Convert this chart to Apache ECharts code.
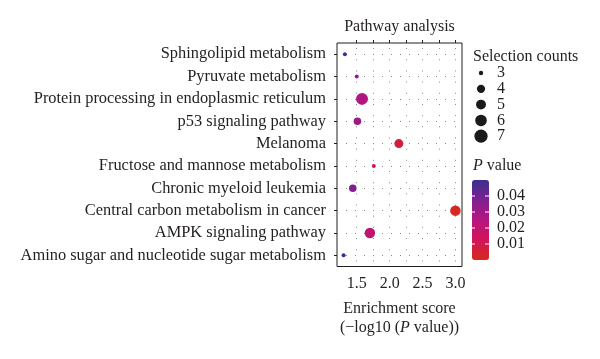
<!DOCTYPE html>
<html><head><meta charset="utf-8">
<script src="https://cdn.jsdelivr.net/npm/echarts@6/dist/echarts.min.js"></script>
<style>html,body{margin:0;padding:0;background:#fff}#c{width:600px;height:359px}</style>
</head><body><div id="c"></div>
<script>
const categories = [
  'Sphingolipid metabolism',
  'Pyruvate metabolism',
  'Protein processing in endoplasmic reticulum',
  'p53 signaling pathway',
  'Melanoma',
  'Fructose and mannose metabolism',
  'Chronic myeloid leukemia',
  'Central carbon metabolism in cancer',
  'AMPK signaling pathway',
  'Amino sugar and nucleotide sugar metabolism'
];
const enrichmentScores = [1.32, 1.50, 1.58, 1.51, 2.14, 1.76, 1.44, 3.00, 1.70, 1.30];
const pValues = [0.048, 0.032, 0.026, 0.031, 0.0072, 0.017, 0.036, 0.001, 0.020, 0.050];
const selectionCounts = [3, 3, 7, 4, 5, 3, 4, 6, 6, 3];
const xLabelValues = [1.5, 2.0, 2.5, 3.0];
const xTickValues = [1.5, 1.75, 2.0, 2.25, 2.5, 2.75, 3.0];
const sizeLegendCounts = [3, 4, 5, 6, 7];
const pTickValues = [0.04, 0.03, 0.02, 0.01];

const FONT = 'Liberation Serif';
const FS = 16;
const TXT = '#231f20';
function dotSize(c) { return c <= 3 ? 4 : 1.5 * c + 1.5; }

const chart = echarts.init(document.getElementById('c'), null, {renderer: 'canvas'});

const G = {left: 337, top: 43, width: 125, height: 223.5};
const VM = {left: 472, top: 180, w: 17, h: 80, min: 0, max: 0.05};
const rowStep = G.height / categories.length / 2;

const graphics = [];
const txt = (x, y, text, align) => ({type: 'text', x, y, style: {text, font: FS + 'px ' + FONT, fill: TXT, textAlign: align || 'left', textVerticalAlign: 'middle'}});
graphics.push(txt(G.left + G.width / 2, 27, 'Pathway analysis', 'center'));
graphics.push(txt(G.left + G.width / 2, 309, 'Enrichment score', 'center'));
graphics.push({type: 'text', x: G.left + G.width / 2, y: 328, style: {
  text: '{n|(−log10 (}{i|P}{n| value))}', textAlign: 'center', textVerticalAlign: 'middle',
  rich: {n: {font: FS + 'px ' + FONT, fill: TXT}, i: {font: 'italic ' + FS + 'px ' + FONT, fill: TXT}}}});
// size legend
graphics.push(txt(473, 57, 'Selection counts'));
sizeLegendCounts.forEach((c, i) => {
  const y = 73 + i * 15.8;
  graphics.push({type: 'circle', shape: {cx: 481, cy: y, r: dotSize(c) * 0.55}, style: {fill: '#1a1a1a'}});
  graphics.push(txt(497, y, String(c)));
});
// P value legend
graphics.push({type: 'text', x: 473, y: 166, style: {
  text: '{i|P}{n| value}', textAlign: 'left', textVerticalAlign: 'middle',
  rich: {n: {font: FS + 'px ' + FONT, fill: TXT}, i: {font: 'italic ' + FS + 'px ' + FONT, fill: TXT}}}});
pTickValues.forEach(v => {
  const y = VM.top + (VM.max - v) / (VM.max - VM.min) * VM.h;
  graphics.push({type: 'line', shape: {x1: VM.left, y1: y, x2: VM.left + 3, y2: y}, style: {stroke: '#fff', lineWidth: 1}, z: 100});
  graphics.push({type: 'line', shape: {x1: VM.left + VM.w - 4, y1: y, x2: VM.left + VM.w, y2: y}, style: {stroke: '#fff', lineWidth: 1}, z: 100});
  graphics.push(txt(497, y, v.toFixed(2)));
});

const option = {
  backgroundColor: '#fff',
  animation: false,
  textStyle: {fontFamily: FONT},
  grid: {left: G.left, top: G.top, width: G.width, height: G.height, show: true, borderColor: '#231f20', borderWidth: 1, containLabel: false},
  xAxis: [{
    type: 'value', min: 1.2, max: 3.1,
    axisLine: {show: false},
    axisTick: {show: true, length: 3, inside: true, customValues: xTickValues, lineStyle: {color: '#231f20'}},
    axisLabel: {customValues: xLabelValues, formatter: v => v.toFixed(1), color: TXT, fontFamily: FONT, fontSize: FS, margin: 9},
    splitLine: {show: true, lineStyle: {color: '#8a8a8a', type: [1, rowStep - 1], dashOffset: -rowStep / 2 + 0.5, width: 1}}
  }],
  yAxis: [{
    type: 'category', data: categories, inverse: true,
    axisLine: {show: false},
    axisTick: {show: true, alignWithLabel: true, length: 3, lineStyle: {color: '#231f20'}},
    axisLabel: {color: TXT, fontFamily: FONT, fontSize: 16.4, margin: 11},
    splitLine: {show: false}
  }, {
    type: 'value', min: 0, max: 10, interval: 1, inverse: true,
    axisLine: {show: false}, axisLabel: {show: false}, axisTick: {show: false},
    splitLine: {show: false},
    minorTick: {show: false, splitNumber: 2},
    minorSplitLine: {show: true, lineStyle: {color: '#8a8a8a', type: [1, 8], width: 1}}
  }],
  visualMap: {
    type: 'continuous', min: VM.min, max: VM.max, dimension: 2, seriesIndex: 0,
    left: VM.left, top: VM.top, itemWidth: VM.w, itemHeight: VM.h, padding: 0,
    calculable: false, text: null, showLabel: false, hoverLink: false,
    inRange: {color: ['#d42a1c', '#d3135a', '#b5157f', '#7d2090', '#3b2f8f']}
  },
  series: [{
    type: 'scatter', xAxisIndex: 0, yAxisIndex: 0,
    data: categories.map((c, i) => [enrichmentScores[i], c, pValues[i], selectionCounts[i]]),
    symbolSize: d => dotSize(d[3]),
    itemStyle: {opacity: 1},
    z: 5
  }],
  graphic: graphics
};
chart.setOption(option);
</script>
</body></html>
